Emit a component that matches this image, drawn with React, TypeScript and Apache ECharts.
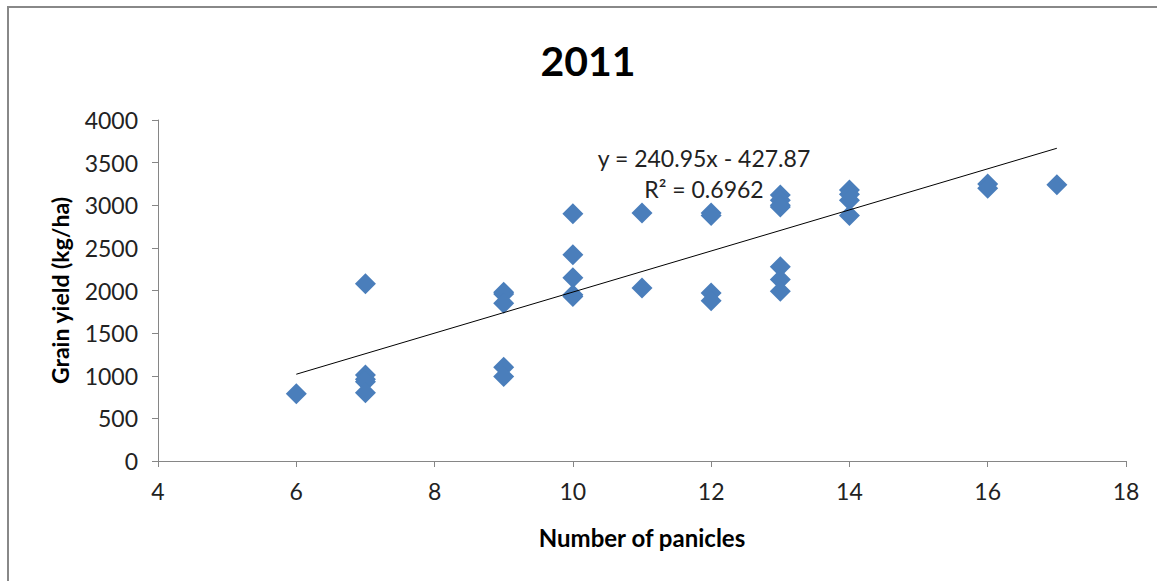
import React, { useEffect, useRef } from "react";
import * as echarts from "echarts";

const xTicks = [4, 6, 8, 10, 12, 14, 16, 18];
const panicles = [
  6,
  7, 7, 7, 7, 7,
  9, 9, 9, 9, 9,
  10, 10, 10, 10, 10,
  11, 11,
  12, 12, 12, 12,
  13, 13, 13, 13, 13, 13, 13,
  14, 14, 14, 14,
  16, 16,
  17,
];
const grainYield = [
  790,
  2080, 1010, 960, 930, 800,
  1980, 1960, 1850, 1100, 990,
  2900, 2420, 2150, 1950, 1930,
  2910, 2030,
  2910, 2880, 1970, 1880,
  3120, 3060, 3000, 2980, 2280, 2130, 1990,
  3180, 3130, 3060, 2880,
  3250, 3200,
  3240,
];
const slope = 240.95;
const intercept = -427.87;
const trendRange = [6, 17];
const equationText = "y = 240.95x - 427.87";
const r2Text = "R² = 0.6962";
const titleText = "2011";
const xName = "Number of panicles";
const yName = "Grain yield (kg/ha)";

const FONT = "Lato, 'Open Sans', sans-serif";

export default function App() {
  const ref = useRef<HTMLDivElement>(null);
  useEffect(() => {
    if (!ref.current) return;
    const chart = echarts.init(ref.current, undefined, { renderer: "svg" });
    const points = panicles.map((x, i) => [x, grainYield[i]]);
    const trend = trendRange.map((x) => [x, slope * x + intercept]);
    chart.setOption({
      animation: false,
      backgroundColor: "#fff",
      textStyle: { fontFamily: FONT },
      grid: { left: 158, right: 31, top: 120, bottom: 120, containLabel: false },
      xAxis: {
        type: "value",
        min: xTicks[0],
        max: xTicks[xTicks.length - 1],
        interval: 2,
        name: xName,
        nameLocation: "middle",
        nameGap: 64,
        nameTextStyle: { fontFamily: FONT, fontSize: 24, fontWeight: "bold", color: "#000" },
        axisLine: { lineStyle: { color: "#868686", width: 1 } },
        axisTick: { show: true, length: 6, lineStyle: { color: "#868686" } },
        axisLabel: { fontFamily: FONT, fontSize: 23, color: "#222", margin: 18 },
        splitLine: { show: false },
      },
      yAxis: {
        type: "value",
        min: 0,
        max: 4000,
        interval: 500,
        name: yName,
        nameLocation: "middle",
        nameGap: 87,
        nameTextStyle: { fontFamily: FONT, fontSize: 23, fontWeight: "bold", color: "#000" },
        axisLine: { show: true, lineStyle: { color: "#868686", width: 1 } },
        axisTick: { show: true, length: 6, lineStyle: { color: "#868686" } },
        axisLabel: {
          fontFamily: FONT,
          fontSize: 23,
          color: "#222",
          margin: 20,
          formatter: (v: number) => String(v),
        },
        splitLine: { show: false },
      },
      series: [
        {
          type: "line",
          data: trend,
          symbol: "none",
          lineStyle: { color: "#000", width: 1 },
          z: 3,
          silent: true,
        },
        {
          type: "scatter",
          data: points,
          symbol: "diamond",
          symbolSize: [21, 21],
          itemStyle: { color: "#4A7EBB", opacity: 1 },
          z: 2,
        },
      ],
      graphic: [
        {
          type: "rect",
          shape: { x: 8, y: 7, width: 1300, height: 800 },
          style: { fill: "none", stroke: "#888", lineWidth: 2 },
          silent: true,
        },
        {
          type: "text",
          x: 588,
          y: 60,
          style: {
            text: titleText,
            fontFamily: FONT,
            fontSize: 41,
            fontWeight: "bold",
            fill: "#000",
            textAlign: "center",
            textVerticalAlign: "middle",
          },
        },
        {
          type: "text",
          x: 704,
          y: 158,
          style: {
            text: equationText,
            fontFamily: FONT,
            fontSize: 23,
            fill: "#222",
            textAlign: "center",
            textVerticalAlign: "middle",
          },
        },
        {
          type: "text",
          x: 704,
          y: 189,
          style: {
            text: r2Text,
            fontFamily: FONT,
            fontSize: 23,
            fill: "#222",
            textAlign: "center",
            textVerticalAlign: "middle",
          },
        },
      ],
    });
    return () => chart.dispose();
  }, []);
  return (
    <div
      ref={ref}
      style={{ position: "fixed", left: 0, top: 0, width: 1157, height: 581 }}
    />
  );
}
